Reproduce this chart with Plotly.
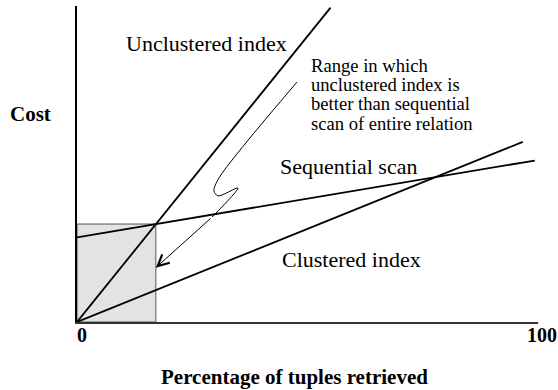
import plotly.graph_objects as go

# Cost of three access paths vs. percentage of tuples retrieved
unclustered_x = [0, 55]
unclustered_y = [0, 99.5]
sequential_x = [0, 99.3]
sequential_y = [26.8, 51.1]
clustered_x = [0, 96.7]
clustered_y = [0, 57.0]

# break-even point between unclustered index and sequential scan
breakeven_x = 17.1
breakeven_cost = 31.0

# hand-drawn pointer from the note down to the shaded range
pointer_x = [47.7, 30.8, 29.7, 30.6, 34.9, 29.3]
pointer_y = [75.9, 45.6, 41.5, 39.9, 42.4, 33.2]

x_tick_labels = ["0", "100"]

SERIF = "Liberation Serif"
INK = "black"

fig = go.Figure()

for xs, ys in [(unclustered_x, unclustered_y),
               (sequential_x, sequential_y),
               (clustered_x, clustered_y)]:
    fig.add_trace(go.Scatter(x=xs, y=ys, mode="lines",
                             line=dict(color=INK, width=1.8),
                             hoverinfo="skip", showlegend=False))

fig.add_trace(go.Scatter(x=pointer_x, y=pointer_y, mode="lines",
                         line=dict(color=INK, width=1, shape="spline", smoothing=0.8),
                         hoverinfo="skip", showlegend=False))

# shaded range where the unclustered index wins
fig.add_shape(type="rect", x0=0, y0=0, x1=breakeven_x, y1=breakeven_cost,
              xref="x", yref="y", fillcolor="#e3e3e3",
              line=dict(color="#555555", width=1), layer="below")

annotations = [
    # arrow head of the pointer
    dict(x=breakeven_x, y=17.2, ax=pointer_x[-1], ay=pointer_y[-1],
         xref="x", yref="y", axref="x", ayref="y", text="",
         showarrow=True, arrowhead=5, arrowsize=2.2, arrowwidth=1,
         arrowcolor=INK),
]

def label(text, x, y, size=22, bold=False, xanchor="left", ref="data"):
    xr, yr = ("x", "y") if ref == "data" else ("paper", "paper")
    return dict(x=x, y=y, xref=xr, yref=yr, text=f"<b>{text}</b>" if bold else text,
                showarrow=False, xanchor=xanchor, yanchor="middle",
                font=dict(family=SERIF, size=size, color=INK))

annotations += [
    label("Unclustered index", 10.2, 88.0),
    label("Sequential scan", 43.5, 49.1),
    label("Clustered index", 44.1, 19.7),
    label("Range in which", 50.4, 81.3, size=18.6),
    label("unclustered index is", 50.4, 75.2, size=18.6),
    label("better than sequential", 50.4, 69.0, size=18.6),
    label("scan of entire relation", 50.4, 62.7, size=18.6),
    # axis titles and end labels sit outside the plotting area
    label("Cost", -0.0998, 0.658, size=21, bold=True, xanchor="center", ref="paper"),
    label(x_tick_labels[0], -0.004, -0.041, size=20, bold=True, ref="paper"),
    label(x_tick_labels[1], 1.0076, -0.041, size=20, bold=True, xanchor="center", ref="paper"),
    label("Percentage of tuples retrieved", 0.4718, -0.174, size=21, bold=True,
          xanchor="center", ref="paper"),
]

fig.update_layout(
    width=558, height=390,
    margin=dict(l=77, r=20, t=6, b=68),
    paper_bgcolor="white", plot_bgcolor="white",
    annotations=annotations,
    xaxis=dict(range=[0, 100], showgrid=False, zeroline=False, showticklabels=False,
               ticks="", showline=True, linecolor="#333333", linewidth=2),
    yaxis=dict(range=[0, 100], showgrid=False, zeroline=False, showticklabels=False,
               ticks="", showline=True, linecolor=INK, linewidth=1.5),
)

fig.write_html("out.html")
